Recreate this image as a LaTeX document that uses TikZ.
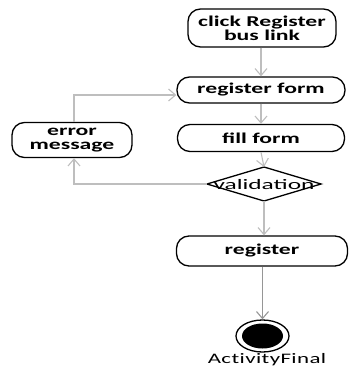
\documentclass[tikz,border=0pt]{standalone}
\usepackage{fontspec}
\usetikzlibrary{arrows.meta,shapes.geometric}
\newfontfamily\diagfont[FakeStretch=1.58]{Carlito}
\newfontfamily\widefont[FakeStretch=1.75]{Carlito}
\definecolor{flowgray}{RGB}{190,190,190}
\definecolor{finalgray}{RGB}{150,150,150}
\tikzset{
  action/.style={draw=black, line width=1.3pt, rounded corners=12.5pt, fill=white,
    align=center, inner sep=0pt,
    font=\diagfont\bfseries\fontsize{15}{14}\selectfont},
  flow/.style={draw=flowgray, line width=1.1pt,
    -{Straight Barb[length=7pt,width=12pt,line width=1.1pt]}},
  plainlbl/.style={font=\widefont\fontsize{14.5}{14}\selectfont, inner sep=0pt}
}
\begin{document}
\begin{tikzpicture}[x=1pt,y=-1pt]
\useasboundingbox (0,0) rectangle (350,367);

% activity nodes
\node[action, minimum width=148pt, minimum height=38pt] (click) at (262,28) {click Register\\bus link};
\node[action, minimum width=168pt, minimum height=26pt] (regform) at (261,90) {register form};
\node[action, minimum width=167pt, minimum height=27pt] (fill) at (261,138) {fill form};
\node[action, minimum width=120pt, minimum height=35pt] (error) at (72,140) {error\\message};
\node[action, minimum width=171pt, minimum height=30pt] (register) at (262,251) {register};

% decision node
\coordinate (valc) at (264,184);
\draw[line width=1.3pt, fill=white] (207,184) -- (264,167) -- (321,184) -- (264,201) -- cycle;
\node[plainlbl] (valtext) at (264,185) {validation};

% final node
\node[draw=black, line width=1.3pt, ellipse, minimum width=53pt, minimum height=32pt, inner sep=0pt] (final) at (262.5,336) {};
\fill[black] (final.center) ellipse [x radius=20.5pt, y radius=12.5pt];
\node[plainlbl, font=\diagfont\fontsize{14.5}{14}\selectfont] (finallbl) at (267,360) {A\kern0.4pt c\kern0.4pt t\kern0.4pt i\kern0.4pt v\kern0.4pt i\kern0.4pt t\kern0.4pt y\kern0.4pt F\kern0.4pt i\kern0.4pt n\kern0.4pt a\kern0.4pt l};

% control flow
\coordinate (loopbot) at (74,184);
\coordinate (looptop) at (74,95);
\draw[flow] (click.south -| regform.north) -- (regform.north);
\draw[flow] (regform.south) -- (fill.north);
\draw[flow] (fill.south) -- (264,167);
\draw[flow] (264,201) -- (register.north -| 264,0);
\draw[flow, draw=finalgray, line width=1.5pt] (register.south -| final.north) -- (final.north);
\draw[flow] (207,184) -- (loopbot) -- (loopbot |- error.south);
\draw[flow] (looptop |- error.north) -- (looptop) -- (looptop -| regform.west);
\end{tikzpicture}
\end{document}
